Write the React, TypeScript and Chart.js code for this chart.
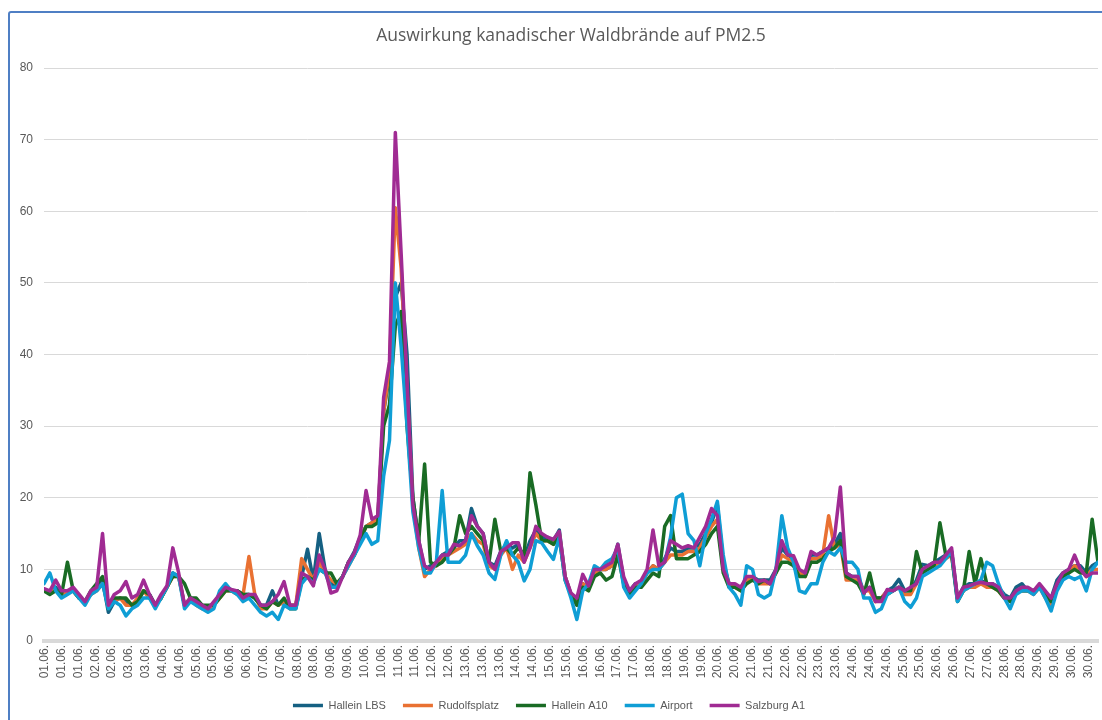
import React, { useEffect, useRef } from "react";
import { Chart, registerables } from "chart.js";

Chart.register(...registerables);

const TITLE = "Auswirkung kanadischer Waldbrände auf PM2.5";

// x-axis tick labels (one label every 11.5 hours, as in the original)
const DATE_LABELS = [
  "01.06.", "01.06.", "01.06.", "02.06.", "02.06.", "03.06.", "03.06.", "04.06.", "04.06.",
  "05.06.", "05.06.", "06.06.", "06.06.", "07.06.", "07.06.", "08.06.", "08.06.", "09.06.",
  "09.06.", "10.06.", "10.06.", "11.06.", "11.06.", "12.06.", "12.06.", "13.06.", "13.06.",
  "13.06.", "14.06.", "14.06.", "15.06.", "15.06.", "16.06.", "16.06.", "17.06.", "17.06.",
  "18.06.", "18.06.", "19.06.", "19.06.", "20.06.", "20.06.", "21.06.", "21.06.", "22.06.",
  "22.06.", "23.06.", "23.06.", "24.06.", "24.06.", "24.06.", "25.06.", "25.06.", "26.06.",
  "26.06.", "27.06.", "27.06.", "28.06.", "28.06.", "29.06.", "29.06.", "30.06.", "30.06.",
];
const LABEL_STEP_HOURS = 11.5;
const SAMPLE_STEP_HOURS = 4;

const Y_TICKS = [0, 10, 20, 30, 40, 50, 60, 70, 80];

// PM2.5 values, one sample every 4 hours from 01.06. 00:00 to 30.06. 24:00
const HALLEIN_LBS = [
  7, 7, 7.5, 6.5, 7, 7,
  6, 5.5, 6.5, 7.5, 8.5, 4,
  5.5, 6, 5.5, 5, 5.5, 7,
  6.5, 5, 6, 7.5, 9.5, 9,
  5, 6, 5.5, 5, 4.5, 5,
  6.5, 7.5, 7, 7, 6.5, 6.5,
  6, 5, 5, 7, 5, 5.5,
  5, 5, 9, 12.8, 8.5, 15,
  10, 8, 7.5, 9, 11, 12.5,
  14.5, 16, 16.5, 17, 32, 37,
  48, 50, 40, 20, 14, 10,
  10.5, 11, 12, 12.5, 13, 14,
  14, 18.5, 16, 15, 11, 10.5,
  12.5, 13.5, 13, 13.5, 11.5, 14,
  15.5, 14.5, 14.5, 14, 15.5, 9,
  6.5, 5.5, 8, 7.5, 9.5, 10,
  10, 10.5, 13.5, 8.5, 7, 8,
  8, 9.5, 10.5, 10, 11.5, 13,
  12.5, 12.5, 13, 13, 13.5, 15,
  16.5, 19, 11, 8, 7.5, 7.5,
  8.5, 9, 8.5, 8.5, 8.5, 10,
  13, 12, 11.5, 9.5, 9.5, 12,
  12, 12.5, 13, 13.5, 15, 9.5,
  9, 9, 7, 7.5, 6, 6,
  7, 7.5, 8.6, 7, 7, 8.5,
  10.7, 10.5, 11, 11.5, 12, 12.5,
  6, 7.5, 8, 8, 8.5, 8,
  8, 7.5, 6.5, 6, 7.5, 8,
  7, 7, 7.5, 6.5, 6, 8.5,
  9.5, 10, 10.5, 10.5, 9.5, 10.5, 11,
];

const RUDOLFSPLATZ = [
  7, 7, 7, 6.5, 7, 7,
  6, 5.5, 6.5, 7, 8, 5,
  5.5, 6, 5, 5, 6, 7,
  6, 5, 6, 7.5, 9, 9,
  5, 6, 5, 4.5, 4.5, 5,
  6, 7, 7, 6.5, 6.5, 11.8,
  6.5, 4.5, 4.5, 5.5, 5, 5.5,
  5, 5, 11.5, 10, 8.5, 11,
  9.5, 8.5, 8, 9, 10.5, 12,
  14, 16, 16.5, 17, 32, 38,
  60.5, 52, 35, 19, 13, 9,
  10, 10.5, 11.5, 12, 12.5, 13,
  13.5, 15, 14, 13.5, 10.5, 10,
  12, 13, 10, 12, 11, 13,
  15, 14, 14, 13.5, 15, 9,
  6.5, 5, 8, 7.5, 9.5, 10,
  10, 10.5, 13, 8.5, 6.5, 7.5,
  8, 9.5, 10.5, 10, 11, 12,
  12, 12, 12.5, 12.5, 13, 14.5,
  16, 17, 10, 8, 7.5, 7,
  8.5, 9, 8, 8, 8, 9.5,
  12, 11.5, 11, 9.5, 9, 11.5,
  11.5, 12, 17.5, 13, 13.5, 8.5,
  8.5, 8.5, 7, 7, 5.5, 6,
  7, 7, 7.5, 6.5, 6.5, 8,
  10, 10, 10.5, 11, 11.5, 12,
  6, 7, 7.5, 7.5, 8, 7.5,
  7.5, 7, 6, 5.5, 7, 7,
  7, 6.5, 7.5, 6, 5, 7.5,
  9, 9.5, 10.5, 10, 9, 10, 10,
];

const HALLEIN_A10 = [
  7, 6.5, 7, 6.5, 11, 7,
  6, 5.5, 7, 8, 9, 4.5,
  6, 6, 6, 5, 5.5, 7,
  6.5, 5, 6, 7.5, 9, 9,
  8, 6, 6, 5, 5, 5,
  6, 7, 7, 7, 6.5, 6.5,
  6, 5, 4.5, 5.5, 5, 6,
  4.5, 4.5, 8.5, 9, 8.5, 10,
  9.5, 9.5, 8, 9, 11, 12,
  14, 16, 16, 16.5, 30, 33,
  44, 46, 30, 20, 14, 24.7,
  11, 10.5, 11, 12, 13, 17.5,
  15, 16, 15, 14, 11, 17,
  12.5, 13, 12, 13, 12, 23.5,
  19, 14, 14, 13.5, 14.5, 8.5,
  6.5, 5, 7.5, 7, 9, 9.5,
  8.5, 9, 12, 8, 6.5, 7.5,
  7.5, 8.5, 9.5, 9, 16, 17.5,
  11.5, 11.5, 11.5, 12, 12.5, 13.5,
  15, 16, 9.5, 7.5, 7.5, 7,
  8, 8.5, 8, 8.5, 8, 9.5,
  11, 11, 10.5, 9, 9, 11,
  11, 11.5, 12.5, 13, 14, 9,
  8.5, 8, 6.5, 9.5, 6, 6,
  6.5, 7, 7.5, 7, 7, 12.5,
  9.5, 10, 10.5, 16.5, 12, 12,
  5.5, 7, 12.5, 8, 11.5, 8,
  7.5, 7, 6, 5.5, 7, 7,
  7, 7, 7.5, 6.5, 5.5, 8,
  9, 9.5, 10, 9.5, 9.5, 17, 11,
];

const AIRPORT = [
  8, 9.5, 7, 6, 6.5, 7,
  6, 5, 6.5, 7, 8, 4.5,
  5.5, 5, 3.5, 4.5, 5, 6,
  6, 4.5, 6, 7.5, 9.5, 9,
  4.5, 5.5, 5, 4.5, 4, 4.5,
  7, 8, 7, 6.5, 5.5, 6,
  5, 4, 3.5, 4, 3, 5,
  4.5, 4.5, 8, 9, 8, 10,
  9.5, 7.5, 7.5, 9, 10.5, 12,
  13.5, 15, 13.5, 14, 23, 28,
  50, 41, 30, 18, 13, 9.5,
  9.5, 11, 21, 11, 11, 11,
  12, 15, 13.3, 12, 9.5, 8.6,
  12, 14, 12, 11, 8.4, 10,
  14, 13.7, 12.5, 11.4, 14.5, 8.5,
  6, 3, 7, 8, 10.5, 10,
  11, 11.5, 13, 7.5, 6, 7,
  8, 9.5, 10, 10, 11, 14.5,
  20, 20.5, 15, 14, 10.5, 15,
  17, 19.5, 12, 7.5, 6.5, 5,
  10.5, 10, 6.5, 6, 6.5, 10,
  17.5, 13, 11, 7, 6.7, 8,
  8, 11, 12.5, 12, 13, 11,
  11, 10, 6, 6, 4, 4.5,
  6.5, 7, 7.5, 5.5, 4.7, 6,
  9, 9.5, 10, 10.5, 11.5, 12.5,
  5.5, 7, 7.5, 8, 8.5, 11,
  10.5, 8, 6, 4.5, 6.5, 7,
  7, 6.5, 7.5, 6, 4.2, 7,
  8.5, 9, 8.6, 9, 7, 10, 11,
];

const SALZBURG_A1 = [
  7.3, 7, 8.5, 7, 7, 7.5,
  6.5, 5.5, 7, 7.5, 15, 5,
  6.5, 7, 8.3, 6, 6.5, 8.5,
  6.5, 5, 6.5, 7.7, 13, 9.5,
  5, 6, 5.5, 5, 4.5, 5.5,
  6.5, 7.5, 7.2, 7, 6, 6.5,
  6.5, 5, 5, 5.5, 6.5, 8.3,
  5, 5, 9.5, 9, 7.7, 12,
  10, 6.7, 7, 9, 11, 12.3,
  14.8, 21, 17, 17.5, 34, 39,
  71, 54, 36, 19, 14, 10.5,
  10, 11, 12, 12, 13.5, 13.3,
  14, 17.5, 16, 15, 11, 10,
  12.5, 13, 13.7, 13.7, 11, 13,
  16, 15, 14.5, 14.2, 15.3, 9,
  6.7, 6, 9.3, 7.7, 10, 10,
  10.5, 11, 13.5, 9, 7, 8,
  8.5, 10, 15.5, 10.5, 11, 14,
  13.5, 13, 13.3, 13, 14.5, 16,
  18.5, 17.5, 10, 8, 8, 7.5,
  9, 9, 8.3, 8.5, 8, 10,
  14, 12, 11.9, 10, 9.5, 12.5,
  12, 12.5, 13, 14.5, 21.5, 9.5,
  9, 9, 6.7, 7.5, 5.5, 5.5,
  7.2, 7, 7.5, 7, 7.5, 8,
  10, 10.5, 11, 11, 12, 13,
  6, 7.5, 7.7, 8, 8.2, 8,
  8, 7.5, 6, 6, 7, 7.5,
  7.5, 7, 8, 7, 6, 8,
  9.5, 10, 12, 10, 9, 9.5, 9.5,
];

const SERIES_NAMES = ["Hallein LBS", "Rudolfsplatz", "Hallein A10", "Airport", "Salzburg A1"];
const SERIES_VALUES = [HALLEIN_LBS, RUDOLFSPLATZ, HALLEIN_A10, AIRPORT, SALZBURG_A1];
const SERIES_COLORS = ["#156082", "#E97132", "#196B24", "#0F9ED5", "#A02B93"];

export default function App() {
  const canvasRef = useRef<HTMLCanvasElement | null>(null);

  useEffect(() => {
    const canvas = canvasRef.current;
    if (!canvas) return;
    const tickFont = { family: "'Liberation Sans', Arial, sans-serif", size: 12 };
    const chart = new Chart(canvas, {
      type: "line",
      data: {
        datasets: SERIES_NAMES.map((name, si) => ({
          label: name,
          data: SERIES_VALUES[si].map((v, i) => ({ x: i * SAMPLE_STEP_HOURS, y: v })),
          borderColor: SERIES_COLORS[si],
          backgroundColor: SERIES_COLORS[si],
          borderWidth: 3.5,
          pointRadius: 0,
          pointHoverRadius: 0,
          tension: 0,
          borderJoinStyle: "round",
          borderCapStyle: "round",
          order: SERIES_NAMES.length - si,
        })),
      },
      options: {
        responsive: false,
        animation: false,
        events: [],
        layout: { padding: { left: 0, right: 4, top: 0, bottom: -1 } },
        plugins: {
          title: {
            display: true,
            text: TITLE,
            color: "#595959",
            fullSize: false,
            font: { family: "'Open Sans', sans-serif", size: 17.5, weight: "normal" },
            padding: { top: 26, bottom: 21 },
          },
          legend: {
            position: "bottom",
            labels: {
              usePointStyle: true,
              pointStyle: "line",
              pointStyleWidth: 30,
              boxHeight: 11,
              color: "#595959",
              padding: 17,
              font: { family: "'Liberation Sans', Arial, sans-serif", size: 11 },
              sort: (a: any, b: any) => a.datasetIndex - b.datasetIndex,
            },
          },
          tooltip: { enabled: false },
        },
        scales: {
          x: {
            type: "linear",
            min: 0,
            max: 720,
            grid: { display: false, drawTicks: false },
            border: { display: true, color: "#d9d9d9", width: 4 },
            ticks: {
              autoSkip: false,
              minRotation: 90,
              maxRotation: 90,
              padding: 4,
              color: "#595959",
              font: tickFont,
              callback: (_v: any, i: number) => DATE_LABELS[i],
            },
            afterBuildTicks: (scale: any) => {
              scale.ticks = DATE_LABELS.map((_, k) => ({ value: k * LABEL_STEP_HOURS + 0.5 }));
            },
            afterFit: (scale: any) => {
              scale.height = 42;
              scale.paddingLeft = 0;
              scale.paddingRight = 0;
            },
          },
          y: {
            min: Y_TICKS[0],
            max: Y_TICKS[Y_TICKS.length - 1],
            ticks: { stepSize: 10, padding: 11, color: "#595959", font: tickFont },
            grid: {
              drawTicks: false,
              lineWidth: 1,
              color: (ctx: any) => (ctx.tick && ctx.tick.value === 0 ? "rgba(0,0,0,0)" : "#d9d9d9"),
            },
            border: { display: false },
            afterFit: (scale: any) => {
              scale.width = 44;
            },
          },
        },
      },
    } as any);
    return () => chart.destroy();
  }, []);

  return (
    <div
      style={{
        position: "fixed",
        left: 0,
        top: 0,
        width: 1102,
        height: 720,
        overflow: "hidden",
        background: "#ffffff",
      }}
    >
      <div
        style={{
          position: "absolute",
          left: 8,
          top: 11,
          width: 1130,
          height: 760,
          border: "2px solid #4f7fc4",
          borderRadius: 3,
          boxSizing: "border-box",
        }}
      />
      <canvas
        ref={canvasRef}
        width={1102}
        height={720}
        style={{ position: "absolute", left: 0, top: 0 }}
      />
    </div>
  );
}
